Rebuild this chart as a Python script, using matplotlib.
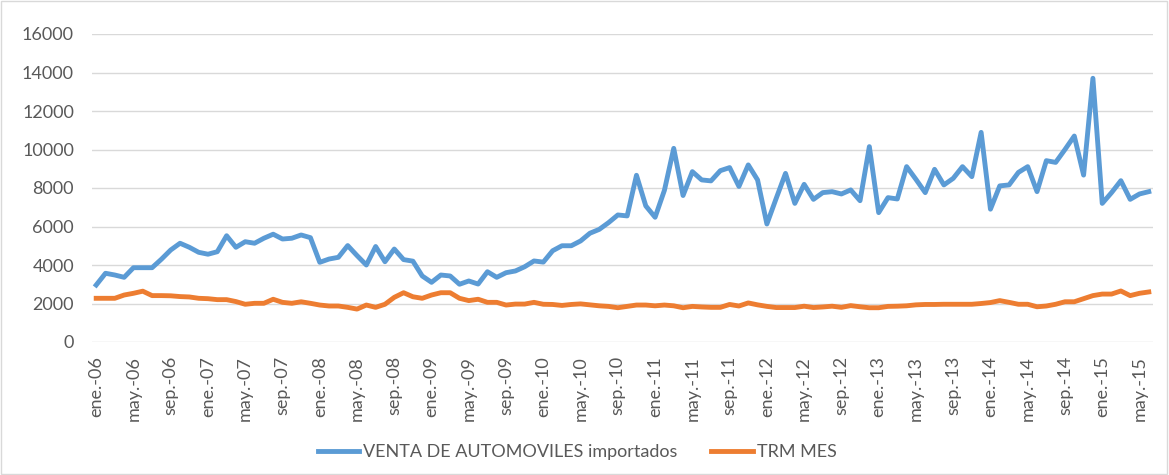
import matplotlib
matplotlib.use("Agg")
import matplotlib.pyplot as plt
from matplotlib.patches import Rectangle

plt.rcParams['font.family'] = ['Lato', 'DejaVu Sans']

# monthly series, ene-06 .. jun-15
meses = ['ene', 'feb', 'mar', 'abr', 'may', 'jun', 'jul', 'ago', 'sep', 'oct', 'nov', 'dic']
anios = ['06', '07', '08', '09', '10', '11', '12', '13', '14', '15']
fechas = [f"{m}.-{a}" for a in anios for m in meses][:114]

venta_autos = [
    2960, 3570, 3480, 3360, 3860, 3860, 3860, 4300, 4780, 5130, 4920, 4660,
    4560, 4690, 5520, 4920, 5210, 5130, 5390, 5600, 5350, 5390, 5560, 5420,
    4140, 4310, 4400, 5010, 4490, 4000, 4960, 4170, 4830, 4280, 4200, 3430,
    3100, 3480, 3430, 3000, 3170, 3010, 3650, 3360, 3600, 3690, 3910, 4210,
    4150, 4740, 5000, 5000, 5250, 5650, 5850, 6200, 6600, 6550, 8660, 7070,
    6480, 7880, 10060, 7610, 8850, 8420, 8370, 8900, 9060, 8080, 9200, 8420,
    6130, 7460, 8760, 7200, 8190, 7410, 7760, 7810, 7690, 7900, 7340, 10150,
    6720, 7500, 7430, 9110, 8450, 7760, 8970, 8160, 8500, 9110, 8590, 10890,
    6900, 8110, 8160, 8810, 9110, 7810, 9420, 9330, 10000, 10700, 8670, 13700,
    7200, 7760, 8380, 7410, 7690, 7810,
]

trm_mes = [
    2270, 2270, 2270, 2440, 2530, 2640, 2410, 2410, 2400, 2360, 2340, 2270,
    2250, 2200, 2200, 2100, 1960, 2010, 2010, 2220, 2060, 2010, 2090, 2010,
    1920, 1870, 1870, 1800, 1710, 1920, 1800, 1960, 2320, 2560, 2350, 2270,
    2440, 2560, 2560, 2270, 2150, 2220, 2060, 2060, 1920, 1970, 1970, 2060,
    1960, 1950, 1900, 1950, 1980, 1930, 1880, 1850, 1780, 1850, 1920, 1920,
    1880, 1920, 1880, 1780, 1850, 1820, 1800, 1800, 1950, 1870, 2030, 1930,
    1850, 1790, 1790, 1790, 1860, 1790, 1820, 1860, 1800, 1890, 1830, 1780,
    1780, 1850, 1860, 1880, 1930, 1950, 1950, 1960, 1960, 1960, 1960, 2000,
    2050, 2150, 2060, 1960, 1960, 1830, 1870, 1960, 2090, 2090, 2250, 2410,
    2490, 2490, 2650, 2410, 2530, 2600,
]

gris_texto = '#595959'
gris_grid = '#D9D9D9'

fig = plt.figure(figsize=(11.69, 4.75), dpi=100)
ax = fig.add_axes([92 / 1169, 1 - 342 / 475, (1153 - 92) / 1169, (342 - 34) / 475])

x = list(range(len(fechas)))
ax.plot(x, venta_autos, color='#5B9BD5', lw=3.5, solid_joinstyle='round',
        label='VENTA DE AUTOMOVILES importados')
ax.plot(x, trm_mes, color='#ED7D31', lw=3.5, solid_joinstyle='round', label='TRM MES')

ax.set_ylim(0, 16000)
ax.set_yticks(range(0, 16001, 2000))
ax.set_xlim(-0.45, len(fechas) - 0.55)
ax.set_xticks(x[::4])
ax.set_xticklabels(fechas[::4], rotation=90)

ax.grid(axis='y', color=gris_grid, lw=1)
ax.set_axisbelow(True)
for s in ax.spines.values():
    s.set_visible(False)
ax.tick_params(length=0, labelsize=13, labelcolor=gris_texto)
ax.tick_params(axis='y', pad=13)
ax.tick_params(axis='x', pad=10)

fig.legend(loc='center', bbox_to_anchor=(577 / 1169, 1 - 452 / 475), ncol=2,
           frameon=False, fontsize=13, labelcolor=gris_texto,
           handlelength=2.3, handletextpad=0.2, columnspacing=1.9)

fig.patches.append(Rectangle((0.001, 0.002), 0.997, 0.996, transform=fig.transFigure,
                             fill=False, edgecolor=gris_grid, lw=1))

fig.savefig('out.png', dpi=100)
